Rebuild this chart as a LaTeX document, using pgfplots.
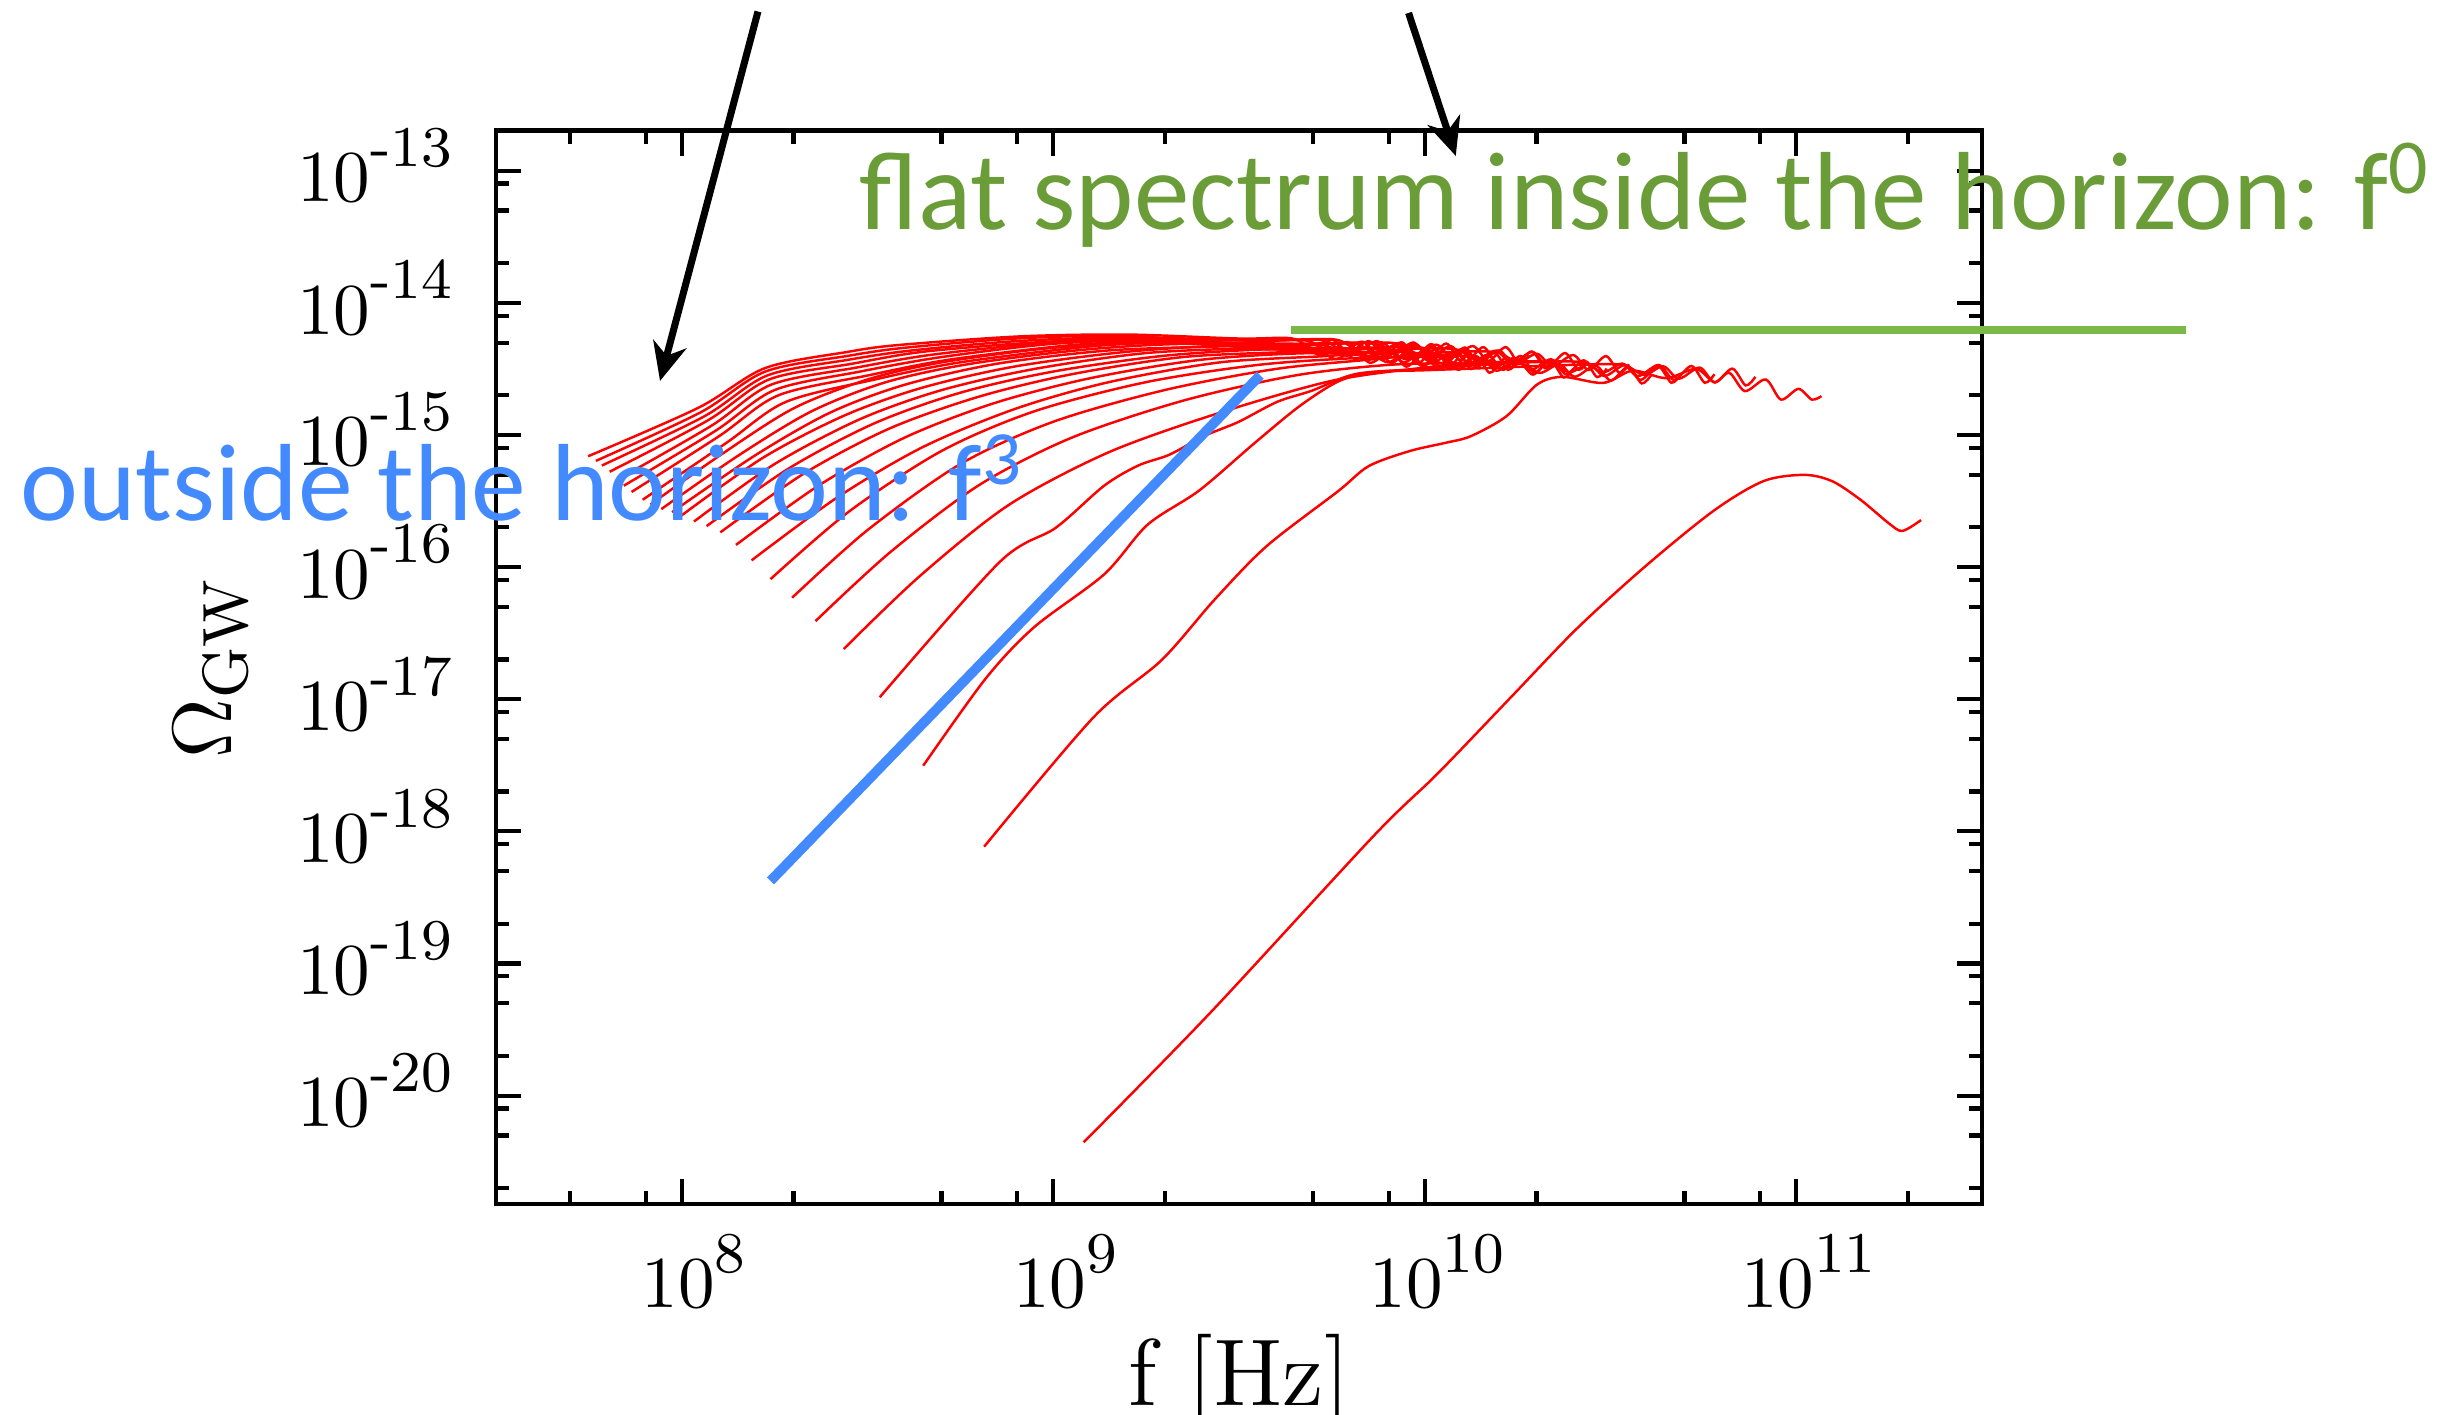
\documentclass[border=0pt]{standalone}
\usepackage{fontspec}
\usepackage{pgfplots}
\pgfplotsset{compat=1.18}
\usetikzlibrary{arrows.meta}
\newfontfamily\gill{Carlito}
\definecolor{fthree}{RGB}{68,138,255}
\definecolor{fzero}{RGB}{122,185,72}
\definecolor{fzerotext}{RGB}{106,156,56}
% power-of-ten tick label with a large raised exponent
\newcommand\ex[1]{10\raisebox{5pt}{\fontsize{8.2}{9}\selectfont #1}}

% data in log10 units: x = log10(f/Hz), y = log10(Omega_GW)
\begin{document}
\begin{tikzpicture}
\begin{axis}[
    name=ax,
    width=74.3mm, height=53.65mm, scale only axis,
    xmin=7.5, xmax=11.5, ymin=-20.82, ymax=-12.699,
    clip=false,
    axis line style={line width=0.7pt},
    tick align=inside,
    major tick length=1.25mm, minor tick length=0.65mm,
    every tick/.style={black, line width=0.6pt},
    xtick={8,9,10,11},
    xticklabels={\ex{8},\ex{9},\ex{10},\ex{11}},
    minor xtick={7.699,7.903,8.301,8.699,8.903,9.301,9.699,9.903,10.301,10.699,10.903,11.301},
    ytick={-20,-19,-18,-17,-16,-15,-14,-13},
    yticklabels={\ex{-20},\ex{-19},\ex{-18},\ex{-17},\ex{-16},\ex{-15},\ex{-14},\ex{-13}},
    minor ytick={-20.699,-20.301,-20.097,-19.699,-19.301,-19.097,-18.699,-18.301,-18.097,-17.699,-17.301,-17.097,-16.699,-16.301,-16.097,-15.699,-15.301,-15.097,-14.699,-14.301,-14.097,-13.699,-13.301,-13.097},
    tick label style={font=\fontsize{10.4}{12}\selectfont},
    xticklabel style={yshift=-0.25mm, xshift=0.6mm},
    yticklabel style={xshift=-0.95mm, yshift=0.25mm},
    xlabel={f [Hz]},
    ylabel={$\Omega_{\mathrm{GW}}$},
    xlabel style={at={(rel axis cs:0.5,-0.188)}, anchor=base, font=\fontsize{13.5}{16}\selectfont},
    ylabel style={at={(rel axis cs:-0.178,0.5)}, anchor=base, font=\fontsize{13}{16}\selectfont},
    spec/.style={red, line width=0.35pt, smooth, tension=0.5, no markers},
  ]
  % spectra at successive times
  \addplot[spec] coordinates {(7.748,-15.161) (8.045,-14.794) (8.225,-14.493) (8.445,-14.372) (8.58,-14.32) (8.91,-14.254) (9.2,-14.24) (9.50,-14.27) (9.64,-14.268) (9.70,-14.345) (9.752,-14.28) (9.794,-14.374) (9.85,-14.29) (9.891,-14.403) (9.938,-14.298) (9.974,-14.425) (10.00,-14.36)};
  \addplot[spec] coordinates {(7.769,-15.196) (8.05,-14.83) (8.225,-14.52) (8.45,-14.40) (8.6,-14.34) (8.9,-14.27) (9.2,-14.25) (9.52,-14.323) (9.66,-14.321) (9.72,-14.398) (9.772,-14.333) (9.814,-14.427) (9.87,-14.343) (9.911,-14.456) (9.958,-14.351) (9.994,-14.478) (10.02,-14.413)};
  \addplot[spec] coordinates {(7.785,-15.231) (8.06,-14.86) (8.23,-14.55) (8.45,-14.43) (8.62,-14.36) (8.9,-14.29) (9.2,-14.26) (9.54,-14.287) (9.68,-14.285) (9.74,-14.362) (9.792,-14.297) (9.834,-14.391) (9.89,-14.307) (9.931,-14.420) (9.978,-14.315) (10.014,-14.442) (10.04,-14.377)};
  \addplot[spec] coordinates {(7.806,-15.278) (8.07,-14.89) (8.235,-14.58) (8.46,-14.46) (8.65,-14.37) (8.95,-14.30) (9.25,-14.27) (9.56,-14.35) (9.70,-14.348) (9.76,-14.425) (9.812,-14.36) (9.854,-14.454) (9.91,-14.37) (9.951,-14.483) (9.998,-14.378) (10.034,-14.505) (10.06,-14.44)};
  \addplot[spec] coordinates {(7.827,-15.337) (8.08,-14.93) (8.24,-14.62) (8.47,-14.49) (8.68,-14.39) (9.0,-14.30) (9.3,-14.28) (9.58,-14.284) (9.72,-14.282) (9.78,-14.359) (9.832,-14.294) (9.874,-14.388) (9.93,-14.304) (9.971,-14.417) (10.018,-14.312) (10.054,-14.439) (10.08,-14.374)};
  \addplot[spec] coordinates {(7.844,-15.384) (8.09,-14.97) (8.25,-14.66) (8.48,-14.52) (8.7,-14.41) (9.0,-14.31) (9.3,-14.28) (9.59,-14.325) (9.73,-14.323) (9.79,-14.40) (9.842,-14.335) (9.884,-14.429) (9.94,-14.345) (9.981,-14.458) (10.028,-14.353) (10.064,-14.48) (10.09,-14.415)};
  \addplot[spec] coordinates {(7.865,-15.431) (8.10,-15.01) (8.26,-14.70) (8.5,-14.55) (8.72,-14.43) (9.05,-14.32) (9.3,-14.29) (9.62,-14.28) (9.76,-14.278) (9.82,-14.355) (9.872,-14.29) (9.914,-14.384) (9.97,-14.30) (10.011,-14.413) (10.058,-14.308) (10.094,-14.435) (10.12,-14.37)};
  \addplot[spec] coordinates {(7.895,-15.490) (8.12,-15.06) (8.28,-14.75) (8.52,-14.58) (8.75,-14.45) (9.1,-14.33) (9.35,-14.30) (9.65,-14.346) (9.79,-14.344) (9.85,-14.421) (9.902,-14.356) (9.944,-14.45) (10.0,-14.366) (10.041,-14.479) (10.088,-14.374) (10.124,-14.501) (10.15,-14.436)};
  \addplot[spec] coordinates {(7.916,-15.526) (8.1,-15.16) (8.3,-14.80) (8.5,-14.58) (8.7,-14.45) (9.0,-14.34) (9.3,-14.30) (9.67,-14.31) (9.81,-14.308) (9.87,-14.385) (9.922,-14.32) (9.964,-14.414) (10.02,-14.33) (10.061,-14.443) (10.108,-14.338) (10.144,-14.465) (10.17,-14.40)};
  \addplot[spec] coordinates {(7.945,-15.561) (8.15,-15.16) (8.35,-14.82) (8.55,-14.60) (8.78,-14.46) (9.1,-14.35) (9.4,-14.31) (9.70,-14.374) (9.84,-14.372) (9.90,-14.449) (9.952,-14.384) (9.994,-14.478) (10.05,-14.394) (10.091,-14.507) (10.138,-14.402) (10.174,-14.529) (10.20,-14.464)};
  \addplot[spec] coordinates {(7.974,-15.584) (8.2,-15.15) (8.4,-14.83) (8.6,-14.62) (8.85,-14.46) (9.15,-14.36) (9.45,-14.33) (9.72,-14.307) (9.86,-14.305) (9.92,-14.382) (9.972,-14.317) (10.014,-14.411) (10.07,-14.327) (10.111,-14.44) (10.158,-14.335) (10.194,-14.462) (10.22,-14.397)};
  \addplot[spec] coordinates {(8.000,-15.608) (8.22,-15.17) (8.44,-14.85) (8.65,-14.64) (8.9,-14.48) (9.2,-14.37) (9.5,-14.32) (9.75,-14.352) (9.89,-14.35) (9.95,-14.427) (10.002,-14.362) (10.044,-14.456) (10.10,-14.372) (10.141,-14.485) (10.188,-14.38) (10.224,-14.507) (10.25,-14.442)};
  \addplot[spec] coordinates {(8.033,-15.655) (8.25,-15.22) (8.48,-14.88) (8.7,-14.66) (8.95,-14.50) (9.25,-14.38) (9.55,-14.34) (9.78,-14.307) (9.92,-14.305) (9.98,-14.382) (10.032,-14.317) (10.074,-14.411) (10.13,-14.327) (10.171,-14.44) (10.218,-14.335) (10.254,-14.462) (10.28,-14.397)};
  \addplot[spec] coordinates {(8.067,-15.690) (8.29,-15.25) (8.52,-14.91) (8.75,-14.68) (9.0,-14.52) (9.3,-14.40) (9.6,-14.35) (9.82,-14.374) (9.96,-14.372) (10.02,-14.449) (10.072,-14.384) (10.114,-14.478) (10.17,-14.394) (10.211,-14.507) (10.258,-14.402) (10.294,-14.529) (10.32,-14.464)};
  \addplot[spec] coordinates {(8.104,-15.737) (8.33,-15.29) (8.56,-14.95) (8.8,-14.71) (9.05,-14.54) (9.35,-14.41) (9.65,-14.37) (9.85,-14.34) (9.99,-14.338) (10.05,-14.415) (10.102,-14.35) (10.144,-14.444) (10.20,-14.36) (10.241,-14.473) (10.288,-14.368) (10.324,-14.495) (10.35,-14.43)};
  \addplot[spec] coordinates {(8.146,-15.832) (8.37,-15.38) (8.6,-15.02) (8.84,-14.76) (9.1,-14.57) (9.4,-14.43) (9.7,-14.38) (9.90,-14.41) (10.04,-14.408) (10.10,-14.485) (10.152,-14.42) (10.194,-14.514) (10.25,-14.43) (10.291,-14.543) (10.338,-14.438) (10.374,-14.565) (10.40,-14.50)};
  \addplot[spec] coordinates {(8.188,-15.949) (8.42,-15.47) (8.65,-15.09) (8.9,-14.80) (9.15,-14.60) (9.45,-14.45) (9.75,-14.40) (9.94,-14.352) (10.08,-14.35) (10.14,-14.427) (10.192,-14.362) (10.234,-14.456) (10.29,-14.372) (10.331,-14.485) (10.378,-14.38) (10.414,-14.507) (10.44,-14.442)};
  \addplot[spec] coordinates {(8.239,-16.091) (8.45,-15.58) (8.7,-15.12) (8.95,-14.82) (9.25,-14.60) (9.55,-14.47) (9.8,-14.42) (9.99,-14.407) (10.13,-14.405) (10.19,-14.482) (10.242,-14.417) (10.284,-14.511) (10.34,-14.427) (10.381,-14.54) (10.428,-14.435) (10.464,-14.562) (10.49,-14.497)};
  \addplot[spec] coordinates {(8.297,-16.232) (8.5,-15.72) (8.75,-15.22) (9.0,-14.90) (9.3,-14.66) (9.6,-14.50) (9.85,-14.43) (10.05,-14.375) (10.19,-14.373) (10.25,-14.45) (10.302,-14.385) (10.344,-14.479) (10.40,-14.395) (10.441,-14.508) (10.488,-14.403) (10.524,-14.53) (10.55,-14.465)};
  \addplot[spec] coordinates {(8.360,-16.409) (8.56,-15.89) (8.8,-15.38) (9.05,-15.02) (9.35,-14.74) (9.65,-14.55) (9.9,-14.47) (10.11,-14.455) (10.25,-14.453) (10.31,-14.53) (10.362,-14.465) (10.404,-14.559) (10.46,-14.475) (10.501,-14.588) (10.548,-14.483) (10.584,-14.61) (10.61,-14.545)};
  \addplot[spec] coordinates {(8.436,-16.620) (8.64,-16.07) (8.88,-15.53) (9.15,-15.13) (9.45,-14.83) (9.75,-14.59) (10.0,-14.49) (10.19,-14.45) (10.33,-14.448) (10.39,-14.525) (10.442,-14.46) (10.484,-14.554) (10.54,-14.47) (10.581,-14.583) (10.628,-14.478) (10.664,-14.605) (10.69,-14.54)};
  \addplot[spec] coordinates {(8.533,-16.985) (8.856,-15.961) (9.007,-15.702) (9.137,-15.384) (9.229,-15.231) (9.313,-15.149) (9.406,-15.008) (9.498,-14.902) (9.603,-14.749) (9.695,-14.666) (9.817,-14.537) (10.0,-14.50) (10.15,-14.47) (10.28,-14.45) (10.42,-14.448) (10.48,-14.525) (10.532,-14.46) (10.574,-14.554) (10.63,-14.47) (10.671,-14.583) (10.718,-14.478) (10.754,-14.605) (10.78,-14.54)};
  \addplot[spec] coordinates {(8.650,-17.503) (8.818,-16.844) (8.948,-16.456) (9.137,-16.055) (9.254,-15.679) (9.393,-15.420) (9.540,-15.066) (9.662,-14.784) (9.767,-14.595) (9.859,-14.525) (10.0,-14.51) (10.2,-14.49) (10.39,-14.47) (10.53,-14.468) (10.59,-14.545) (10.642,-14.48) (10.684,-14.574) (10.74,-14.49) (10.781,-14.603) (10.828,-14.498) (10.864,-14.625) (10.89,-14.56)};
  \addplot[spec] coordinates {(8.814,-18.116) (9.108,-17.138) (9.292,-16.703) (9.435,-16.244) (9.575,-15.84) (9.767,-15.425) (9.849,-15.236) (9.959,-15.122) (10.055,-15.06) (10.124,-15.009) (10.22,-14.858) (10.302,-14.619) (10.371,-14.560) (10.481,-14.606) (10.560,-14.513) (10.65,-14.57) (10.73,-14.50) (10.78,-14.60) (10.820,-14.530) (10.862,-14.668) (10.918,-14.580) (10.959,-14.732) (11.006,-14.651) (11.042,-14.732) (11.068,-14.706)};
  \addplot[spec] coordinates {(9.082,-20.353) (9.422,-19.375) (9.863,-18.033) (10.035,-17.562) (10.232,-16.985) (10.409,-16.467) (10.593,-15.996) (10.778,-15.573) (10.912,-15.349) (11.022,-15.302) (11.097,-15.35) (11.173,-15.490) (11.25,-15.67) (11.286,-15.726) (11.336,-15.644)};
  % guide slopes
  \addplot[fthree, line width=1.4pt, no markers] coordinates {(8.239,-18.375) (9.557,-14.548)};
  \addplot[fzero, line width=1.1pt, no markers] coordinates {(9.641,-14.207) (12.05,-14.207)};
  % annotations
  \node[anchor=base west, inner sep=0, text=fthree, font=\fontsize{15.6}{18}\gill] at (rel axis cs:-0.321,0.6365) {outside the horizon: f\textsuperscript{3}};
  \node[anchor=base west, inner sep=0, text=fzerotext, font=\fontsize{15.8}{18}\gill] at (rel axis cs:0.2436,0.9077) {flat spectrum inside the horizon: f\textsuperscript{0}};
  \draw[line width=1pt, -{Stealth[length=1.9mm, width=1.7mm, inset=0.6mm]}] (rel axis cs:0.1763,1.1113) -- (rel axis cs:0.1104,0.767);
  \draw[line width=1pt, -{Stealth[length=1.9mm, width=1.7mm, inset=0.6mm]}] (rel axis cs:0.6141,1.110) -- (rel axis cs:0.6459,0.9767);
\end{axis}
\pgfresetboundingbox
\path[use as bounding box] ([shift={(-24.8mm,-10.55mm)}]ax.south west) rectangle ++(122.25mm,70.75mm);
\end{tikzpicture}
\end{document}
